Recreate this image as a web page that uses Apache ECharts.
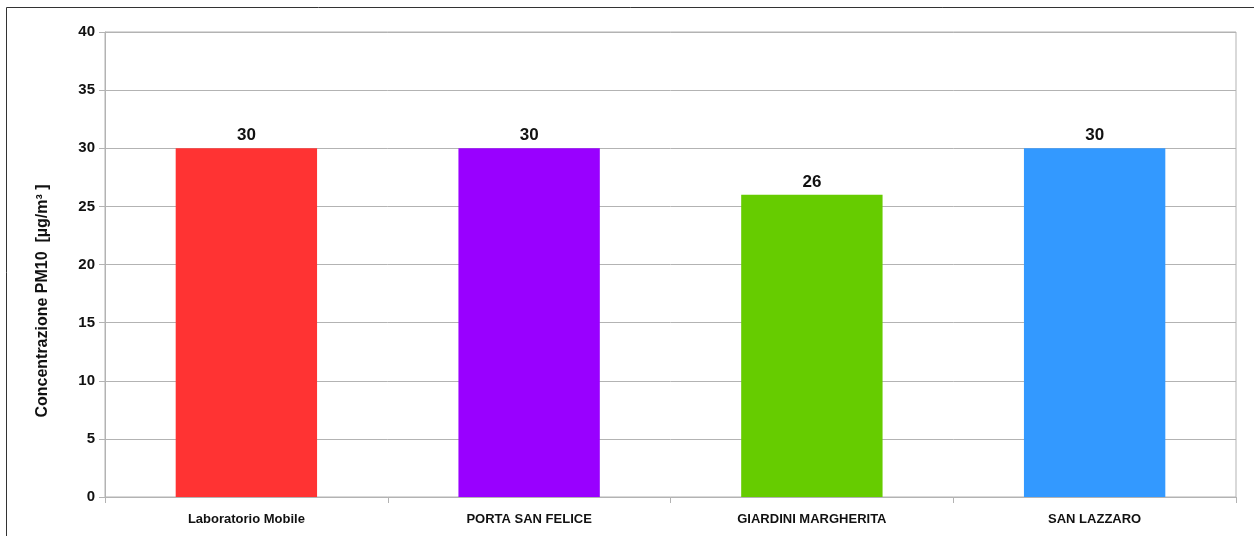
<!DOCTYPE html>
<html><head><meta charset="utf-8">
<script src="https://cdn.jsdelivr.net/npm/echarts@6/dist/echarts.min.js"></script>
<style>html,body{margin:0;padding:0;background:#fff}#c{width:1254px;height:536px}</style>
</head><body><div id="c"></div>
<script>
const categories = ['Laboratorio Mobile', 'PORTA SAN FELICE', 'GIARDINI MARGHERITA', 'SAN LAZZARO'];
const values = [30, 30, 26, 30];
const barColors = ['#ff3333', '#9900ff', '#66cc00', '#3399ff'];
const yTicks = [0, 5, 10, 15, 20, 25, 30, 35, 40];
const yTitle = 'Concentrazione PM10  [µg/m³ ]';
const F = '"Liberation Sans Narrow", "Liberation Sans", Arial, sans-serif';

const chart = echarts.init(document.getElementById('c'), null, {renderer: 'canvas'});
chart.setOption({
  animation: false,
  backgroundColor: '#fff',
  grid: {left: 105, top: 32, width: 1131, height: 465, containLabel: false,
         show: true, borderColor: '#b3b3b3', borderWidth: 1},
  xAxis: {
    type: 'category', data: categories,
    axisLine: {lineStyle: {color: '#b3b3b3', width: 1}},
    axisTick: {show: true, alignWithLabel: false, length: 6, lineStyle: {color: '#b3b3b3'}},
    axisLabel: {color: '#111', fontFamily: F, fontWeight: 'bold', fontSize: 13, margin: 16}
  },
  yAxis: {
    type: 'value', min: yTicks[0], max: yTicks[yTicks.length - 1], interval: 5,
    axisLine: {show: true, lineStyle: {color: '#b3b3b3'}},
    axisTick: {show: true, length: 6, lineStyle: {color: '#b3b3b3'}},
    axisLabel: {color: '#111', fontFamily: F, fontWeight: 'bold', fontSize: 15, margin: 10},
    splitLine: {show: true, lineStyle: {color: '#b3b3b3', width: 1}}
  },
  series: [{
    type: 'bar', barWidth: '50%',
    data: values.map((v, i) => ({value: v, itemStyle: {color: barColors[i]}})),
    label: {show: true, position: 'top', distance: 4, color: '#111',
            fontFamily: F, fontWeight: 'bold', fontSize: 17}
  }],
  graphic: [
    {type: 'rect', shape: {x: 6.5, y: 7.5, width: 1300, height: 600},
     style: {fill: null, stroke: '#333', lineWidth: 1}, silent: true},
    {type: 'text', x: 43, y: 301, rotation: Math.PI / 2,
     style: {text: yTitle, fill: '#111', font: 'bold 16px ' + F,
             textAlign: 'center', textVerticalAlign: 'middle'}}
  ]
});
</script></body></html>
